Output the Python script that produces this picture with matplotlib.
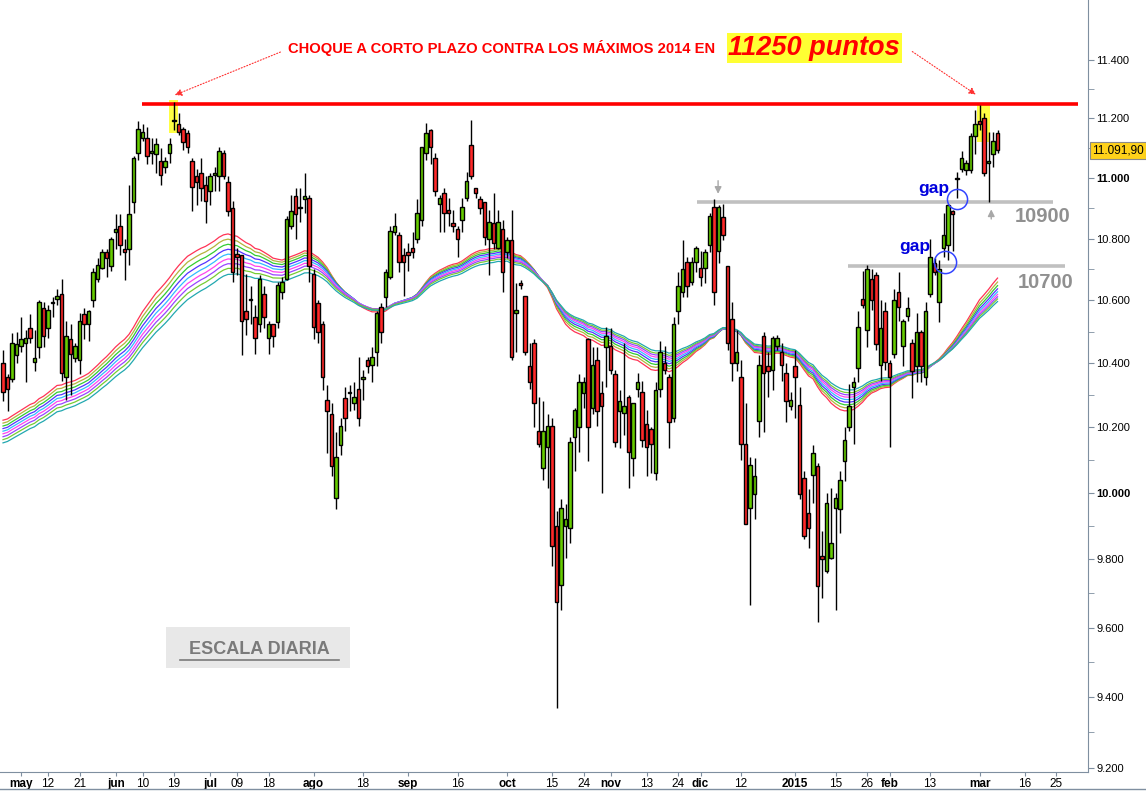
import numpy as np
import pandas as pd
import matplotlib
matplotlib.use("Agg")
import matplotlib.pyplot as plt
from matplotlib.patches import Rectangle
from matplotlib.lines import Line2D
from matplotlib.ticker import FixedLocator, NullFormatter

plt.rcParams['font.family'] = ['Liberation Sans', 'DejaVu Sans']

# IBEX 35 diario, 25-abr-2014 .. 06-mar-2015
opens = [
    10400, 10355, 10350, 10425, 10455, 10465, 10510, 10405, 10450, 10575,
    10510, 10590, 10605, 10620, 10355, 10475, 10415, 10410, 10555, 10525,
    10600, 10670, 10705, 10755, 10710, 10820, 10840, 10765, 10765, 10920,
    11085, 11135, 11135, 11085, 11080, 11055, 11035, 11085, 11195, 11180,
    11165, 11150, 11055, 11005, 11015, 10975, 10955, 11010, 11005, 11085,
    10985, 10900, 10750, 10745, 10565, 10600, 10545, 10525, 10620, 10480,
    10525, 10530, 10625, 10670, 10840, 10940, 10905, 10930, 10935, 10685,
    10590, 10525, 10285, 10240, 9985, 10145, 10290, 10305, 10275, 10320,
    10350, 10410, 10395, 10435, 10580, 10610, 10675, 10820, 10810, 10745,
    10755, 10770, 10800, 10860, 11085, 11160, 11065, 10915, 10950, 10895,
    10850, 10830, 10860, 10935, 11110, 10965, 10930, 10920, 10800, 10850,
    10770, 10830, 10755, 10795, 10560, 10655, 10615, 10390, 10465, 10190,
    10075, 10140, 10205, 9900, 9725, 9900, 9895, 10170, 10200, 10305,
    10475, 10260, 10410, 10305, 10450, 10455, 10365, 10250, 10245, 10295,
    10105, 10320, 10310, 10210, 10195, 10060, 10320, 10400, 10355, 10230,
    10565, 10625, 10725, 10660, 10725, 10705, 10705, 10780, 10905, 10760,
    10870, 10710, 10540, 10400, 10355, 10150, 9955, 9995, 10220, 10485,
    10390, 10380, 10455, 10435, 10370, 10265, 10390, 10270, 10045, 9940,
    10055, 10080, 9810, 9765, 9805, 9955, 9950, 10095, 10200, 10325,
    10385, 10605, 10505, 10670, 10680, 10395, 10565, 10400, 10430, 10625,
    10455, 10550, 10465, 10390, 10500, 10355, 10620, 10720, 10595, 10770,
    10780, 10890, 11000, 11030, 11025, 11025, 11140, 11190, 11200, 11050,
    11080, 11150,
]
highs = [
    10440, 10365, 10495, 10500, 10545, 10505, 10555, 10505, 10600, 10595,
    10585, 10610, 10635, 10670, 10535, 10525, 10465, 10560, 10575, 10570,
    10705, 10735, 10765, 10765, 10805, 10880, 10880, 10800, 10975, 11075,
    11190, 11180, 11170, 11135, 11135, 11100, 11070, 11135, 11255, 11220,
    11170, 11160, 11065, 11030, 11065, 11005, 11015, 11035, 11105, 11095,
    11005, 10925, 10770, 10745, 10685, 10645, 10585, 10680, 10645, 10535,
    10525, 10660, 10675, 10875, 10945, 10965, 10965, 11015, 10945, 10700,
    10600, 10535, 10330, 10275, 10185, 10230, 10325, 10330, 10340, 10420,
    10380, 10420, 10450, 10565, 10590, 10700, 10840, 10885, 10820, 10770,
    10785, 10820, 10930, 11105, 11185, 11165, 11085, 10945, 10965, 10935,
    10895, 10840, 10935, 11020, 11195, 10965, 10940, 10920, 10895, 10950,
    10895, 10860, 10805, 10895, 10655, 10665, 10615, 10465, 10475, 10295,
    10280, 10240, 10230, 9945, 9980, 9965, 10170, 10260, 10365, 10355,
    10480, 10450, 10450, 10345, 10515, 10510, 10380, 10315, 10465, 10300,
    10275, 10370, 10345, 10255, 10200, 10340, 10470, 10455, 10365, 10545,
    10690, 10795, 10740, 10740, 10775, 10760, 10765, 10885, 10930, 10910,
    10915, 10710, 10595, 10505, 10410, 10275, 10110, 10105, 10425, 10500,
    10435, 10485, 10490, 10465, 10400, 10310, 10440, 10325, 10065, 10010,
    10145, 10090, 9885, 10000, 10015, 10000, 10065, 10200, 10335, 10355,
    10565, 10695, 10715, 10700, 10690, 10600, 10595, 10410, 10635, 10690,
    10540, 10610, 10475, 10560, 10505, 10595, 10800, 10735, 10730, 10885,
    10915, 10895, 11020, 11090, 11060, 11150, 11230, 11245, 11220, 11155,
    11155, 11160,
]
lows = [
    10280, 10250, 10340, 10400, 10435, 10340, 10465, 10375, 10415, 10450,
    10480, 10545, 10585, 10345, 10285, 10300, 10405, 10365, 10475, 10470,
    10580, 10660, 10700, 10675, 10695, 10765, 10745, 10665, 10715, 10885,
    11060, 11125, 11045, 11045, 11015, 10975, 11015, 11050, 11160, 11145,
    11095, 11085, 10890, 10910, 10925, 10850, 10910, 10955, 10955, 10995,
    10875, 10660, 10680, 10425, 10490, 10525, 10430, 10500, 10510, 10430,
    10450, 10510, 10605, 10665, 10830, 10800, 10855, 10885, 10660, 10475,
    10465, 10315, 10120, 10050, 9950, 10115, 10190, 10250, 10255, 10205,
    10285, 10370, 10340, 10390, 10465, 10580, 10670, 10810, 10690, 10615,
    10695, 10735, 10785, 10840, 11060, 11045, 10940, 10820, 10820, 10840,
    10820, 10740, 10820, 10925, 10995, 10935, 10880, 10780, 10680, 10765,
    10765, 10625, 10735, 10410, 10435, 10635, 10425, 10320, 10200, 10140,
    10040, 10015, 9780, 9370, 9650, 9805, 9850, 10065, 10125, 10260,
    10095, 10240, 10205, 10000, 10325, 10365, 10140, 10135, 10175, 10015,
    10050, 10295, 10140, 10050, 10060, 10040, 10295, 10365, 10135, 10215,
    10525, 10610, 10610, 10650, 10690, 10645, 10655, 10755, 10585, 10720,
    10795, 10440, 10345, 10375, 10100, 9905, 9665, 9920, 10170, 10185,
    10295, 10315, 10440, 10345, 10215, 10255, 10230, 9980, 9860, 9835,
    9970, 9615, 9685, 9760, 9800, 9650, 9880, 10035, 10190, 10150,
    10340, 10575, 10450, 10570, 10440, 10345, 10380, 10140, 10415, 10535,
    10390, 10535, 10290, 10340, 10340, 10330, 10610, 10680, 10530, 10740,
    10730, 10760, 10935, 11020, 11010, 11015, 11080, 11160, 11005, 10920,
    11035, 11085,
]
closes = [
    10310, 10320, 10465, 10460, 10475, 10480, 10480, 10415, 10595, 10485,
    10570, 10595, 10615, 10370, 10485, 10430, 10455, 10535, 10525, 10565,
    10690, 10715, 10755, 10735, 10800, 10830, 10780, 10755, 10880, 11065,
    11165, 11155, 11075, 11090, 11115, 11010, 11055, 11115, 11190, 11155,
    11120, 11105, 10970, 10985, 10965, 10925, 11005, 11015, 11090, 11005,
    10890, 10690, 10740, 10535, 10540, 10605, 10480, 10670, 10545, 10525,
    10485, 10650, 10660, 10865, 10890, 10880, 10900, 10940, 10710, 10515,
    10500, 10355, 10250, 10080, 10110, 10205, 10230, 10310, 10295, 10230,
    10355, 10390, 10420, 10560, 10500, 10690, 10825, 10840, 10725, 10725,
    10745, 10755, 10885, 11105, 11150, 11105, 10955, 10935, 10885, 10885,
    10840, 10800, 10905, 10990, 11005, 10950, 10900, 10805, 10855, 10785,
    10855, 10690, 10795, 10420, 10570, 10650, 10435, 10340, 10275, 10150,
    10190, 10205, 9840, 9675, 9955, 9920, 10155, 10255, 10340, 10340,
    10200, 10395, 10250, 10265, 10485, 10380, 10155, 10280, 10265, 10125,
    10275, 10340, 10160, 10140, 10150, 10315, 10435, 10380, 10215, 10525,
    10645, 10700, 10645, 10725, 10770, 10675, 10755, 10875, 10625, 10905,
    10810, 10465, 10400, 10435, 10150, 9905, 10085, 10050, 10395, 10370,
    10375, 10480, 10480, 10395, 10280, 10285, 10355, 9995, 9870, 9895,
    10120, 9720, 9800, 9970, 9850, 9985, 10040, 10160, 10265, 10340,
    10515, 10585, 10700, 10600, 10460, 10510, 10405, 10355, 10600, 10580,
    10535, 10575, 10375, 10500, 10390, 10565, 10740, 10690, 10700, 10810,
    10910, 10880, 10995, 11065, 11050, 11140, 11180, 11180, 11015, 11055,
    11125, 11091.9,
]

# cinta de medias exponenciales: valor en la primera vela (leido) y periodo
ribbon_start = [10222, 10213, 10204, 10196, 10188, 10180, 10171, 10162, 10152]
ribbon_spans = [50, 53, 56, 59, 62, 65, 68, 71, 75]
ribbon_colors = ['#ff3355', '#b4b43c', '#33cc33', '#5533ff', '#33bbff',
                 '#ff44ee', '#9944ff', '#77cc33', '#22a8b0']

holidays = ['2014-05-01', '2014-12-25', '2014-12-26', '2015-01-01',
            '2015-04-03', '2015-04-06']
days = pd.bdate_range('2014-04-25', '2015-04-17')
days = days[~days.isin(pd.to_datetime(holidays))]

tick_dates = ['2014-05-02', '2014-05-12', '2014-05-21', '2014-06-02', '2014-06-10',
              '2014-06-19', '2014-07-01', '2014-07-09', '2014-07-18', '2014-08-01',
              '2014-08-18', '2014-09-01', '2014-09-16', '2014-10-01', '2014-10-15',
              '2014-10-24', '2014-11-03', '2014-11-13', '2014-11-24', '2014-12-01',
              '2014-12-12', '2015-01-02', '2015-01-15', '2015-01-26', '2015-02-02',
              '2015-02-13', '2015-03-02', '2015-03-16', '2015-03-25']
tick_labels = ['may', '12', '21', 'jun', '10', '19', 'jul', '09', '18', 'ago',
               '18', 'sep', '16', 'oct', '15', '24', 'nov', '13', '24', 'dic',
               '12', '2015', '15', '26', 'feb', '13', 'mar', '16', '25']

price_levels = list(range(9200, 11401, 200))

o = np.array(opens, float)
h = np.array(highs, float)
l = np.array(lows, float)
c = np.array(closes, float)
n = len(c)
x = np.arange(n)

fig = plt.figure(figsize=(11.46, 7.91), dpi=100)
ax = fig.add_axes([0, 19 / 791, 1088 / 1146, 772 / 791])
ax.set_yscale('log')
ax.set_xlim(-0.67, 241.1)
ax.set_ylim(9189, 11609)

def axpos(px, py):
    return (px / 1088, 1 - py / 772)

# cinta de medias
for seed, span, col in zip(ribbon_start, ribbon_spans, ribbon_colors):
    a = 2.0 / (span + 1)
    e = np.empty(n)
    e[0] = seed
    for t in range(1, n):
        e[t] = a * c[t] + (1 - a) * e[t - 1]
    ax.plot(x, e, color=col, lw=0.9, zorder=2)

# resaltes amarillos en los maximos
ax.add_patch(Rectangle((36.9, 11150), 2.0, 113, fc='#ffff44', ec='none', zorder=1))
ax.add_patch(Rectangle((216.4, 11120), 2.9, 130, fc='#ffff44', ec='none', zorder=1))

# niveles
ax.hlines(11250, 30.9, 238.9, color='#ff0000', lw=2.6, zorder=2.5)
ax.hlines(10920, 154.2, 233.3, color='#c0c0c0', lw=2.6, zorder=2.5)
ax.hlines(10710, 187.8, 236.0, color='#c0c0c0', lw=2.6, zorder=2.5)

# velas
up = c >= o
body_col = np.where(up, '#66cc00', '#ff2828')
ax.vlines(x, l, h, color='black', lw=1.0, zorder=3)
bottom = np.minimum(o, c)
height = np.maximum(np.abs(c - o), 2.0)
ax.bar(x, height, 0.8, bottom=bottom, color=body_col, edgecolor='black',
       linewidth=1.0, zorder=4)

# ejes
for s in ['top', 'left']:
    ax.spines[s].set_visible(False)
axis_col = '#7f8fa0'
ax.spines['right'].set_color(axis_col)
ax.spines['bottom'].set_color(axis_col)
ax.yaxis.tick_right()
ax.yaxis.set_major_locator(FixedLocator(price_levels))
ax.yaxis.set_minor_locator(FixedLocator(list(range(9300, 11400, 200))))
ax.yaxis.set_minor_formatter(NullFormatter())
ax.set_yticklabels([f'{v:,}'.replace(',', '.') for v in price_levels])
for lab, v in zip(ax.get_yticklabels(), price_levels):
    if v % 1000 == 0:
        lab.set_fontweight('bold')
        lab.set_fontsize(8.6)
ax.tick_params(axis='y', which='both', direction='out', length=4, color=axis_col,
               labelsize=8, pad=2)

tick_pos = [days.get_loc(pd.Timestamp(d)) for d in tick_dates]
ax.set_xticks(tick_pos)
ax.set_xticklabels(tick_labels)
for lab in ax.get_xticklabels():
    if not lab.get_text().isdigit() or lab.get_text() == '2015':
        lab.set_fontweight('bold')
ax.tick_params(axis='x', direction='out', length=3, color=axis_col, labelsize=8.5, pad=1.5)

fig.add_artist(Line2D([0, 1], [0.002, 0.002], transform=fig.transFigure, color=axis_col, lw=1))

# etiqueta del ultimo precio
ax.text(1.004, c[-1], '11.091,90', transform=ax.get_yaxis_transform(), fontsize=8.5,
        ha='left', va='center', clip_on=False,
        bbox=dict(boxstyle='square,pad=0.2', fc='#ffd21a', ec='#8a8a8a', lw=0.8))

# titulo
ax.text(*axpos(288, 48), 'CHOQUE A CORTO PLAZO CONTRA LOS MÁXIMOS 2014 EN',
        transform=ax.transAxes, color='#ff0000', fontsize=10.6, fontweight='bold',
        ha='left', va='center')
ax.text(*axpos(814, 48), '11250 puntos', transform=ax.transAxes, color='#ff0000',
        fontsize=19.5, fontweight='bold', style='italic', ha='center', va='center',
        bbox=dict(boxstyle='square,pad=0.06', fc='#ffff33', ec='none'))

arrow_red = dict(arrowstyle='-|>', color='#ff3030', lw=0.8, linestyle=':', mutation_scale=10)
ax.annotate('', xy=(37.6, 11276), xytext=axpos(283, 51), textcoords='axes fraction',
            arrowprops=arrow_red)
ax.annotate('', xy=(216.7, 11276), xytext=axpos(910, 50), textcoords='axes fraction',
            arrowprops=arrow_red)

# flechas grises
arrow_gray = dict(arrowstyle='-|>', color='#a8a8a8', lw=1.0, mutation_scale=10)
ax.annotate('', xy=(158.9, 10938), xytext=(158.9, 11000), arrowprops=arrow_gray)
ax.annotate('', xy=(219.6, 10905), xytext=(219.6, 10855), arrowprops=arrow_gray)

ax.text(*axpos(1043, 216), '10900', transform=ax.transAxes, color='#909090',
        fontsize=14.5, fontweight='bold', ha='center', va='center')
ax.text(*axpos(1046, 282), '10700', transform=ax.transAxes, color='#909090',
        fontsize=14.5, fontweight='bold', ha='center', va='center')

# huecos
ax.text(*axpos(934, 189), 'gap', transform=ax.transAxes, color='#0000dd',
        fontsize=12.5, fontweight='bold', ha='center', va='center')
ax.text(*axpos(915, 247), 'gap', transform=ax.transAxes, color='#0000dd',
        fontsize=12.5, fontweight='bold', ha='center', va='center')
ax.plot(212, 10930, 'o', ms=14.5, mfc='none', mec='#3344ff', mew=1.1, zorder=6)
ax.plot(209.3, 10722, 'o', ms=16, mfc='none', mec='#3344ff', mew=1.1, zorder=6)

# escala diaria
ax.add_patch(Rectangle(axpos(166, 668), 184 / 1088, 41 / 772, transform=ax.transAxes,
                       fc='#e8e8e8', ec='none', zorder=1))
ax.text(*axpos(259, 650), 'ESCALA DIARIA', transform=ax.transAxes, color='#7a7a7a',
        fontsize=13, fontweight='bold', ha='center', va='center', zorder=2)
ux0, uy = axpos(180, 660)
ux1, _ = axpos(339, 660)
ax.plot([ux0, ux1], [uy, uy], transform=ax.transAxes, color='#7a7a7a', lw=1.2, zorder=2)

fig.savefig('out.png', dpi=100)
